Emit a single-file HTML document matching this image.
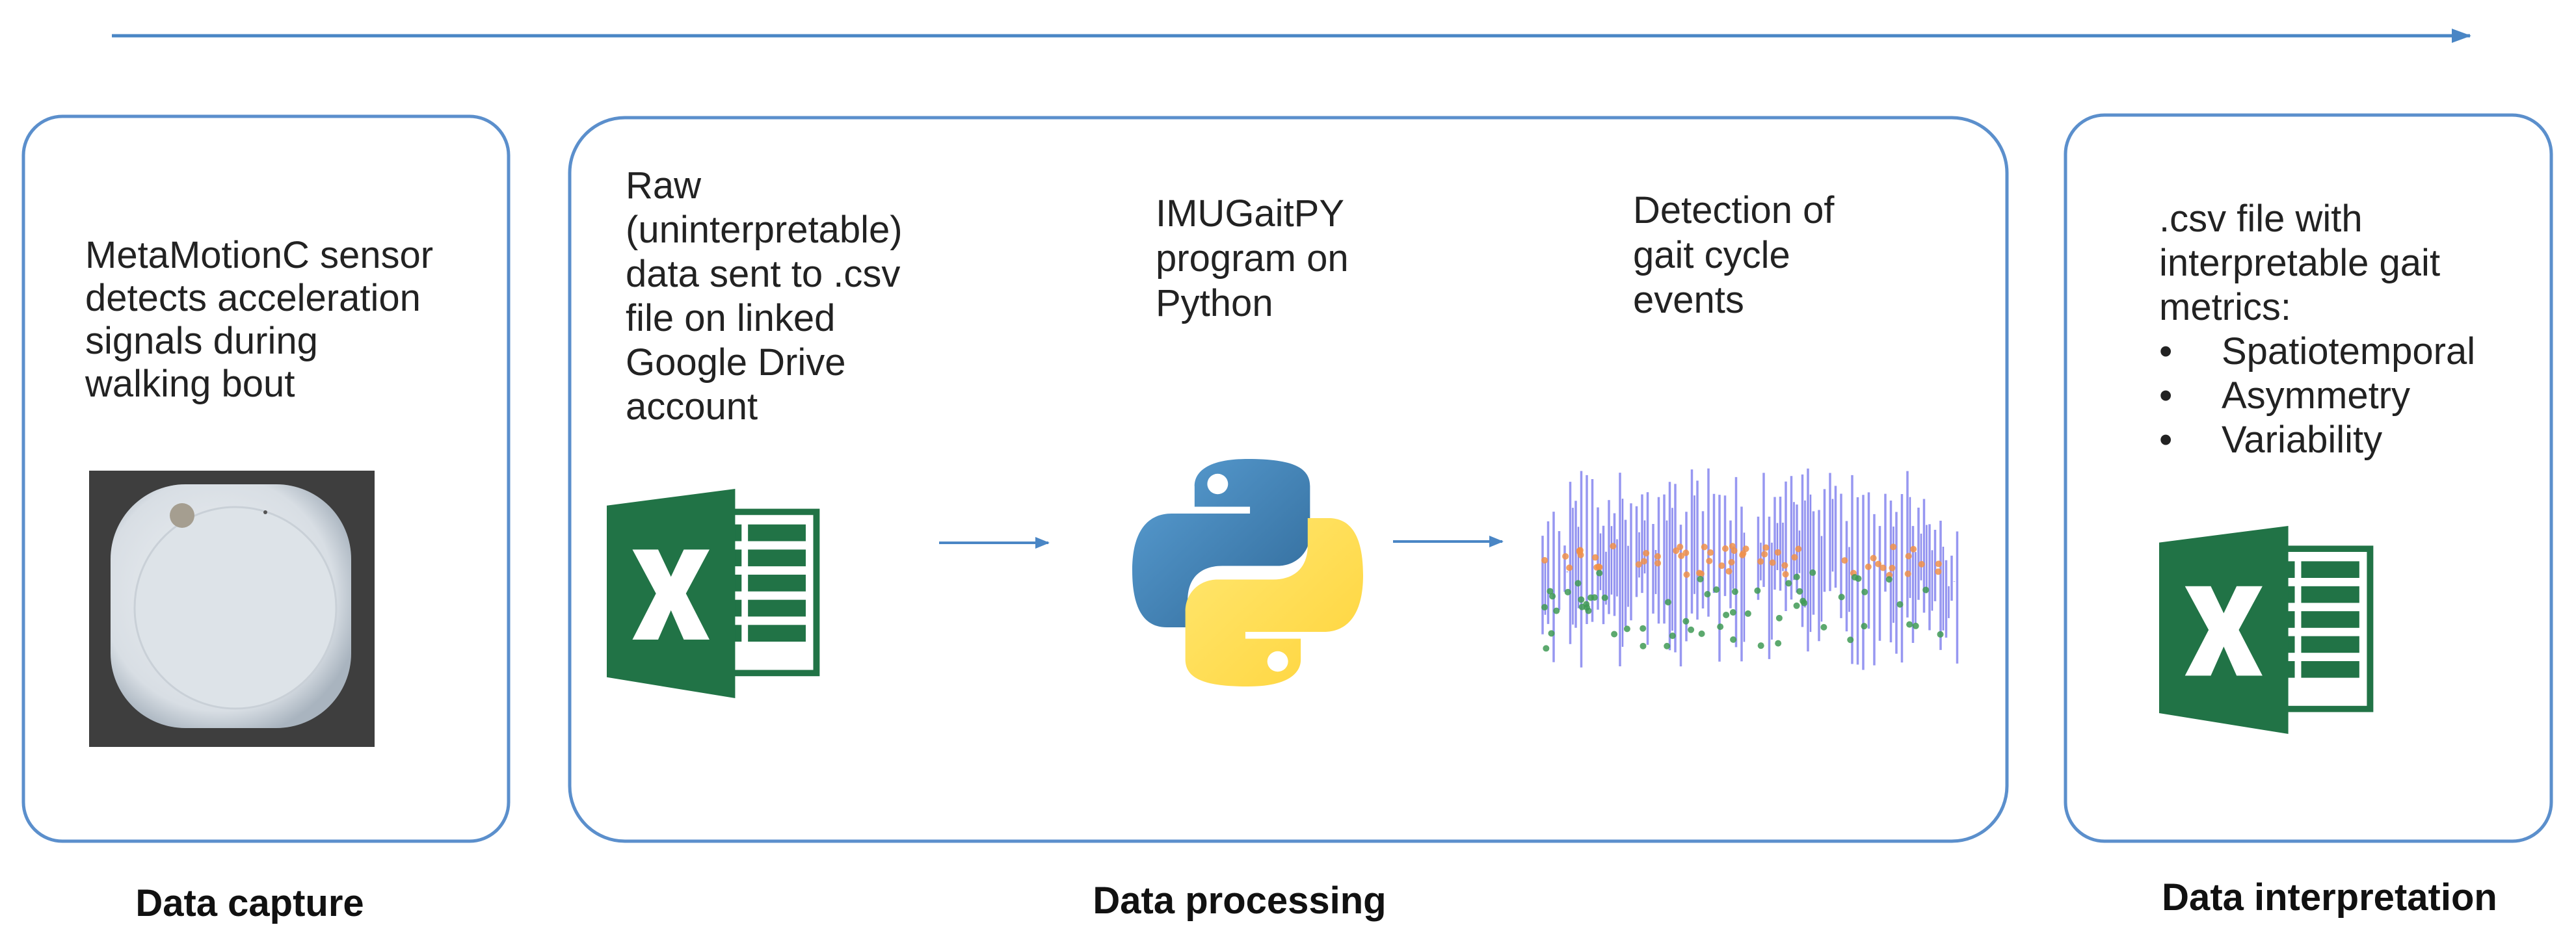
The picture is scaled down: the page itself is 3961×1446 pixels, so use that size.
<!DOCTYPE html>
<html><head><meta charset="utf-8"><style>
html,body{margin:0;padding:0;background:#fff;}
svg{display:block;}
text{font-family:"Liberation Sans",Arial,sans-serif;fill:#222;}
</style></head><body>
<svg id="s" width="3961" height="1446" viewBox="0 0 3961 1446" xmlns="http://www.w3.org/2000/svg">
<defs>
<marker id="ah" markerWidth="30" markerHeight="22" refX="28" refY="11" orient="auto" markerUnits="userSpaceOnUse" viewBox="0 0 30 22"><path d="M0,0 L30,11 L0,22 Z" fill="#4a86c5"/></marker>
<marker id="ah2" markerWidth="22" markerHeight="18" refX="20" refY="9" orient="auto" markerUnits="userSpaceOnUse" viewBox="0 0 22 18"><path d="M0,0 L22,9 L0,18 Z" fill="#4a86c5"/></marker>
<linearGradient id="pb" x1="0" y1="0" x2="1" y2="1"><stop offset="0" stop-color="#5a9fd4"/><stop offset="1" stop-color="#306998"/></linearGradient>
<linearGradient id="py" x1="0" y1="0" x2="1" y2="1"><stop offset="0" stop-color="#ffe873"/><stop offset="1" stop-color="#ffd43b"/></linearGradient>
<radialGradient id="dev" cx="0.45" cy="0.45" r="0.6"><stop offset="0" stop-color="#eef1f4"/><stop offset="0.8" stop-color="#d8dee4"/><stop offset="1" stop-color="#a9b4bf"/></radialGradient>
<g id="xl">
  <rect x="57" y="11" width="41" height="77" fill="#fff" stroke="#217346" stroke-width="3"/>
  <g fill="#217346">
    <rect x="66" y="17" width="27" height="8"/><rect x="66" y="29" width="27" height="8"/>
    <rect x="66" y="41" width="27" height="8"/><rect x="66" y="53" width="27" height="8"/>
    <rect x="66" y="65" width="27" height="8"/><rect x="58" y="17" width="5" height="8"/>
    <rect x="58" y="29" width="5" height="8"/><rect x="58" y="41" width="5" height="8"/>
    <rect x="58" y="53" width="5" height="8"/><rect x="58" y="65" width="5" height="8"/>
  </g>
  <path d="M0,8 L60,0 L60,100 L0,90 Z" fill="#217346"/>
  <path d="M12,29 L24,29 L30,42 L36,29 L48,29 L37,50 L48,72 L36,72 L30,58 L24,72 L12,72 L23,50 Z" fill="#fff"/>
</g>
</defs>

<line x1="172" y1="55" x2="3798" y2="55" stroke="#4a86c5" stroke-width="5" marker-end="url(#ah)"/>

<rect x="36" y="179" width="746" height="1115" rx="60" ry="60" fill="none" stroke="#5b8fcc" stroke-width="5"/>
<rect x="876" y="181" width="2210" height="1113" rx="85" ry="85" fill="none" stroke="#5b8fcc" stroke-width="5"/>
<rect x="3176" y="177" width="747" height="1117" rx="60" ry="60" fill="none" stroke="#5b8fcc" stroke-width="5"/>

<g font-size="58">
<text x="131" y="412">MetaMotionC sensor</text>
<text x="131" y="478">detects acceleration</text>
<text x="131" y="544">signals during</text>
<text x="131" y="610">walking bout</text>
</g>
<rect x="137" y="724" width="439" height="425" fill="#3e3e3e"/>
<rect x="170" y="745" width="370" height="375" rx="115" ry="115" fill="url(#dev)"/>
<circle cx="362" cy="935" r="155" fill="#dde3e8" stroke="#c9d0d7" stroke-width="3"/>
<circle cx="280" cy="793" r="19" fill="#a59e90"/>
<circle cx="408" cy="788" r="3" fill="#555"/>

<g font-size="58">
<text x="962" y="305">Raw</text>
<text x="962" y="373">(uninterpretable)</text>
<text x="962" y="441">data sent to .csv</text>
<text x="962" y="509">file on linked</text>
<text x="962" y="577">Google Drive</text>
<text x="962" y="645">account</text>
<text x="1777" y="348">IMUGaitPY</text>
<text x="1777" y="417">program on</text>
<text x="1777" y="486">Python</text>
<text x="2511" y="343">Detection of</text>
<text x="2511" y="412">gait cycle</text>
<text x="2511" y="481">events</text>
</g>
<use href="#xl" transform="translate(933,752) scale(3.29,3.22)"/>
<line x1="1444" y1="835" x2="1612" y2="835" stroke="#4a86c5" stroke-width="4" marker-end="url(#ah2)"/>
<line x1="2142" y1="833" x2="2310" y2="833" stroke="#4a86c5" stroke-width="4" marker-end="url(#ah2)"/>

<g transform="translate(1741,706) scale(3.55,3.5)">
<path d="M50,0 C27,0 27,10 27,12 L27,21 L51,21 L51,24 L17,24 C8,24 0,30 0,49 C0,70 8,74 15,74 L24,74 L24,62 C24,52 30,47 39,47 L63,47 C71,47 77,41 77,33 L77,12 C77,4 70,0 50,0 Z" fill="url(#pb)"/>
<circle cx="37" cy="11" r="4.5" fill="#fff"/>
<path d="M50,100 C73,100 73,90 73,88 L73,79 L49,79 L49,76 L83,76 C92,76 100,70 100,51 C100,30 92,26 85,26 L76,26 L76,38 C76,48 70,53 61,53 L37,53 C29,53 23,59 23,67 L23,88 C23,96 30,100 50,100 Z" fill="url(#py)"/>
<circle cx="63" cy="89" r="4.5" fill="#fff"/>
</g>

<g id="gait"></g>

<g font-size="58">
<text x="3320" y="356">.csv file with</text>
<text x="3320" y="424">interpretable gait</text>
<text x="3320" y="492">metrics:</text>
<text x="3320" y="560">•</text><text x="3416" y="560">Spatiotemporal</text>
<text x="3320" y="628">•</text><text x="3416" y="628">Asymmetry</text>
<text x="3320" y="696">•</text><text x="3416" y="696">Variability</text>
</g>
<use href="#xl" transform="translate(3320,809) scale(3.31,3.2)"/>

<g font-size="58" font-weight="bold" text-anchor="middle">
<text x="384" y="1409" style="fill:#111">Data capture</text>
<text x="1906" y="1405" style="fill:#111">Data processing</text>
<text x="3582" y="1400" style="fill:#111">Data interpretation</text>
</g>
</svg>
<script>
(function(){
var g=document.getElementById('gait'),s=7,h='';
function r(){s=(s*9301+49297)%233280;return s/233280;}
for(var i=0;i<76;i++){
  var x=2372+i*8.5; if(x>2680&&x<2700) continue;
  var t=720+r()*90, b=900+r()*135;
  if(i<5||i>70) t+=60;
  h+='<line x1="'+x+'" y1="'+t+'" x2="'+x+'" y2="'+b+'" stroke="#8c8cf0" stroke-width="3.5" opacity="0.9"/>';
  if(r()<0.5) h+='<line x1="'+(x+4)+'" y1="'+(t+40)+'" x2="'+(x+4)+'" y2="'+(b-30)+'" stroke="#5a5ae8" stroke-width="2.5" opacity="0.7"/>';
}
for(var j=0;j<60;j++){
  var x2=2375+r()*630; h+='<circle cx="'+x2+'" cy="'+(840+r()*45)+'" r="5" fill="#f0904a" opacity="0.85"/>';
}
for(var k=0;k<60;k++){
  var x3=2375+r()*630; h+='<circle cx="'+x3+'" cy="'+(880+r()*120)+'" r="5" fill="#3f9a55" opacity="0.85"/>';
}
g.innerHTML=h;
})();
</script>
</body></html>
